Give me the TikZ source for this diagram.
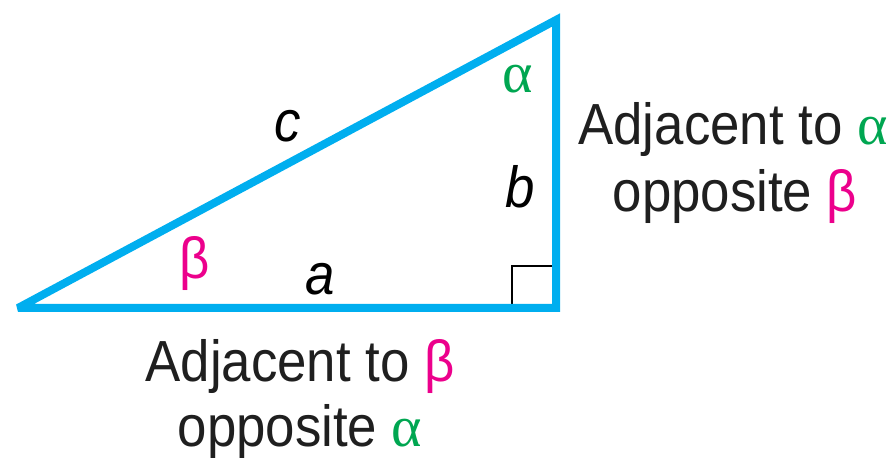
\documentclass[tikz,border=0pt]{standalone}
\usepackage{fontspec}
\setmainfont{Liberation Sans}[FakeStretch=0.91]
\newfontfamily\alphafont{Liberation Serif}
\usepackage{tikz}
\usetikzlibrary{positioning}
\definecolor{sideBlue}{HTML}{00AEEF}
\definecolor{angGreen}{HTML}{00A651}
\definecolor{angPink}{HTML}{EC008C}
\newcommand{\alf}{\textcolor{angGreen}{\alphafont α}}
\newcommand{\bet}{\textcolor{angPink}{β}}

\begin{document}
\begin{tikzpicture}[
  x=0.5pt, y=-0.5pt,
  side/.style={draw=sideBlue, line width=4pt, line join=miter, miter limit=3},
  lbl/.style={font=\fontsize{29}{33}\selectfont\itshape, inner sep=0pt},
  ang/.style={font=\fontsize{29}{33}\selectfont, inner sep=0pt},
  txt/.style={font=\fontsize{29}{33}\selectfont, inner sep=0pt, anchor=base, text=black!88},
]
  \useasboundingbox (0,0) rectangle (893,458);
  % corners of the triangle
  \coordinate (A) at (18,308);
  \coordinate (C) at (556,308);
  \coordinate (B) at (556,20);
  % right angle mark
  \coordinate (rA) at (512,308);
  \coordinate (rB) at (512,266);
  \coordinate (rC) at (556,266);
  \draw[black, line width=1pt] (rA) -- (rB) -- (rC);
  % sides
  \draw[side] (A) -- (C) -- (B) -- cycle;
  % side and angle labels
  \node[lbl] (labc) at (288,126) {c};
  \node[lbl] (labb) at (520,187) {b};
  \node[lbl] (laba) at (320,279) {a};
  \node[ang] (angb) at (195,264) {\bet};
  \node[ang] (anga) at (518,79) {\alf};
  % --- descriptions ---
  \node[txt] (adjA) at (733,145) {Adjacent to \alf};
  \node[txt] (oppB) at (735,212) {opposite \bet};
  \node[txt] (adjB) at (300,382) {Adjacent to \bet};
  \node[txt] (oppA) at (300,447) {opposite \alf};
\end{tikzpicture}
\end{document}
